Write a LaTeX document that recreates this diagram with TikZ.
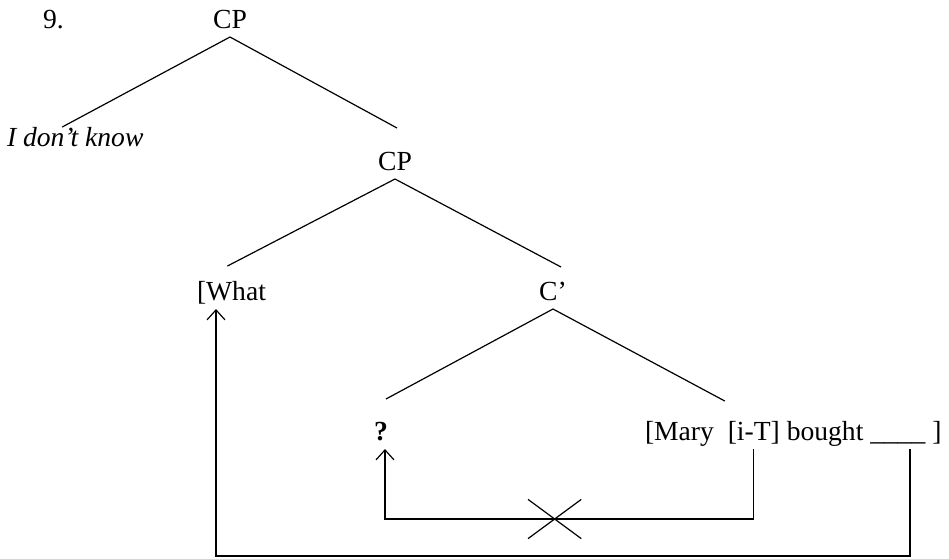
\documentclass[tikz,border=0pt]{standalone}
\usepackage{fontspec}
\setmainfont{Liberation Serif}
\usepackage{tikz}
\usetikzlibrary{positioning, arrows.meta, calc, shapes.misc}

\begin{document}
\begin{tikzpicture}[
      x=0.5pt, y=-0.5pt,
      font=\fontsize{13.8}{16}\selectfont,
      node distance=3.45pt,
      lbl/.style={
        inner sep=0pt,
        outer sep=0pt,
        text height=9.5pt,
        text depth=4.5pt,
        anchor=base
      },
      branch/.style={
        line width=0.6pt
      },
      move/.style={
        -{Straight Barb[length=5pt, width=9pt]},
        line width=0.6pt
      },
      blocked/.style={
        draw, cross out, -,
        minimum width=26pt,
        minimum height=19pt,
        inner sep=0pt,
        line width=0.6pt
      }
    ]
    \useasboundingbox (0,0) rectangle (949,558);

    \node[lbl, anchor=base west] (num) at (43,28) {9.};
    \node[lbl] (cp1) at (230,28) {CP};
    \node[lbl, anchor=base west] (know) at (7,146) {\itshape I don’t know};
    \node[lbl] (cp2) at (395,170) {CP};
    \node[lbl, anchor=base west] (what) at (197,300) {[What};
    \node[lbl] (cbar) at (553,300) {C’};
    \node[lbl] (q) at (381,440) {\textbf{?}};
    \node[lbl, anchor=base west] (mary) at (645,440) {[Mary};
    \node[lbl, base right=6.9pt of mary] (infl) {[i-T]};
    \node[lbl, base right=of infl] (bought) {bought};
    \node[lbl, base right=of bought] (blank) {\_\_\_\_};
    \node[lbl, base right=of blank] (rbr) {]};

    % tree
    \draw[branch] (cp1.south) -- ($(know.north)+(-13,0)$);
    \draw[branch] (cp1.south) -- ($(cp2.north)+(2,-23)$);
    \draw[branch] (cp2.south) -- ($(what.north)+(-4,-15)$);
    \draw[branch] (cp2.south) -- ($(cbar.north)+(8,-14)$);
    \draw[branch] (cbar.south) -- ($(q.north)+(5,-22)$);
    \draw[branch] (cbar.south) -- ($(infl.north west)+(-3,-20)$);

    % movement
    \draw[move] (infl.south) -- ++(0,70) -| node[blocked, pos=0.27] {} ([xshift=2pt]q.south);
    \draw[move] ([xshift=6pt]blank.south) -- ++(0,107) -| ([xshift=9.5pt]what.south west);

    \end{tikzpicture}
\end{document}
